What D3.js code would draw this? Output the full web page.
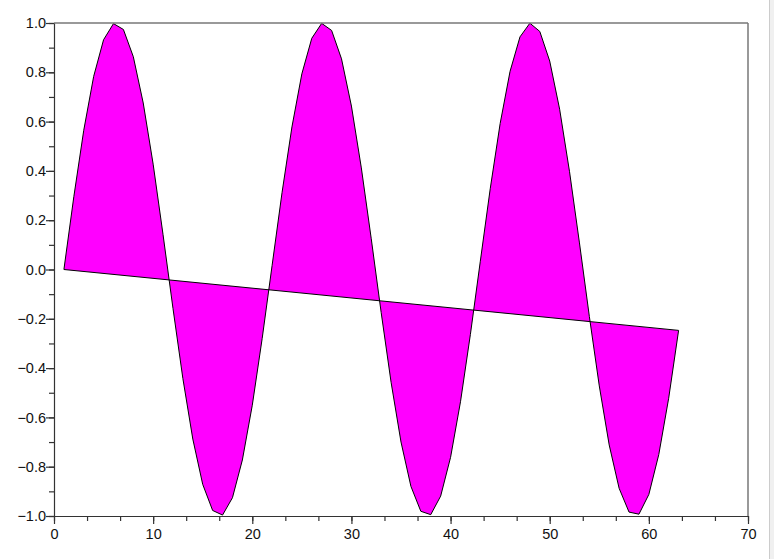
<!DOCTYPE html>
<html><head><meta charset="utf-8">
<script src="https://cdn.jsdelivr.net/npm/d3@7"></script>
<style>body{margin:0;background:#fff}svg{display:block}
.tick text{font-family:'Liberation Sans',Arial,sans-serif !important;font-size:14.5px !important;fill:#111}</style>
</head><body>
<script>
const xValues = d3.range(1, 64);
const yValues = [0,0.2955,0.5646,0.7833,0.9320,0.9975,0.9738,0.8632,0.6755,0.4274,0.1411,
-0.1577,-0.4425,-0.6878,-0.8716,-0.9775,-0.9962,-0.9258,-0.7728,-0.5507,-0.2794,
0.0168,0.3115,0.5784,0.7937,0.9380,0.9985,0.9699,0.8546,0.6630,0.4121,0.1245,
-0.1743,-0.4575,-0.6999,-0.8797,-0.9809,-0.9946,-0.9193,-0.7620,-0.5366,-0.2632,
0.0336,0.3275,0.5921,0.8038,0.9437,0.9993,0.9657,0.8457,0.6503,0.3967,0.1078,
-0.1909,-0.4724,-0.7118,-0.8876,-0.9841,-0.9927,-0.9125,-0.7510,-0.5223,-0.2470];
const xTicks = [0,10,20,30,40,50,60,70];
const yTicks = [-1.0,-0.8,-0.6,-0.4,-0.2,0.0,0.2,0.4,0.6,0.8,1.0];

const W=774,H=559;
const svg=d3.select("body").append("svg").attr("width",W).attr("height",H);
const L=54,R=748,T=23,B=516;
const x=d3.scaleLinear().domain([0,70]).range([L,R]);
const y=d3.scaleLinear().domain([-1,1]).range([B,T]);

// polygon
const pts=xValues.map((v,i)=>[x(v),y(yValues[i])]);
svg.append("path").attr("d","M"+pts.map(p=>p.join(",")).join("L")+"Z")
  .attr("fill","#ff00ff").attr("stroke","#000").attr("stroke-width",1).attr("stroke-linejoin","miter");

// frame top/right
svg.append("line").attr("x1",L).attr("x2",R).attr("y1",T).attr("y2",T).attr("stroke","#777").attr("stroke-width",1.5);
svg.append("line").attr("x1",R).attr("x2",R).attr("y1",T).attr("y2",B).attr("stroke","#777").attr("stroke-width",1.5);

// minor ticks
const minorX=d3.range(0,70.01,10/3);
const minorY=d3.range(-1,1.001,0.1);
const gx=svg.append("g").attr("transform",`translate(0,${B})`);
gx.call(d3.axisBottom(x).tickValues(minorX).tickSize(5).tickFormat(""));
gx.call(g=>g.selectAll(".domain").remove());
const gx2=svg.append("g").attr("transform",`translate(0,${B})`);
gx2.call(d3.axisBottom(x).tickValues(xTicks).tickSize(8).tickSizeOuter(0).tickPadding(5).tickFormat(d3.format("d")));
const gy=svg.append("g").attr("transform",`translate(${L},0)`);
gy.call(d3.axisLeft(y).tickValues(minorY).tickSize(5).tickFormat(""));
gy.call(g=>g.selectAll(".domain").remove());
const gy2=svg.append("g").attr("transform",`translate(${L},0)`);
gy2.call(d3.axisLeft(y).tickValues(yTicks).tickSize(8).tickSizeOuter(0).tickPadding(0).tickFormat(d=>d3.format(".1f")(d).replace("-","\u2212")));
svg.selectAll(".tick line, .domain").attr("stroke","#333").attr("stroke-width",1.2);

// window edge strip
svg.append("rect").attr("x",769).attr("y",0).attr("width",5).attr("height",H).attr("fill","#f0f0f0");
svg.append("line").attr("x1",769.5).attr("x2",769.5).attr("y1",0).attr("y2",H).attr("stroke","#ccc");
</script>
</body></html>
